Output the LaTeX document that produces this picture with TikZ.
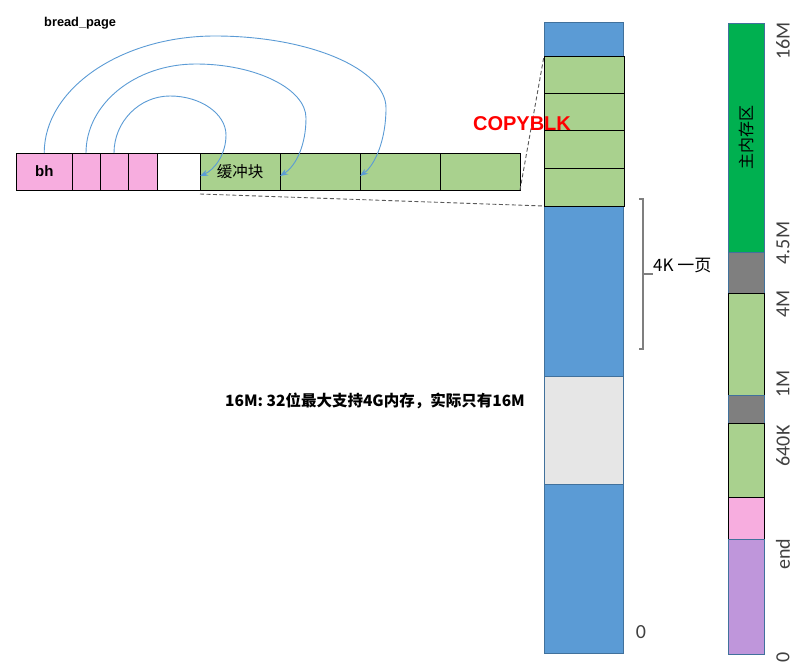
\documentclass[tikz,border=0pt]{standalone}
\usepackage{fontspec}
\setmainfont{Liberation Sans}
\newfontfamily\cjk{Noto Sans CJK SC}
\newfontfamily\calfont{Carlito}
\usetikzlibrary{arrows.meta}
\definecolor{pinkc}{HTML}{F7ADDF}
\definecolor{lgreen}{HTML}{A9D18E}
\definecolor{blueb}{HTML}{5B9BD5}
\definecolor{bluebd}{HTML}{41719C}
\definecolor{lgray}{HTML}{E6E6E6}
\definecolor{dgreen}{HTML}{00B050}
\definecolor{dgray}{HTML}{7F7F7F}
\definecolor{purp}{HTML}{BF96DB}
\definecolor{labc}{HTML}{404040}
\newcommand\rbox[7]{\node[#2, minimum width={#5pt-#3pt}, minimum height={#6pt-#4pt}] (#1) at ({(#3+#5)/2},{(#4+#6)/2}) {#7};}
\begin{document}
\begin{tikzpicture}[x=1pt,y=-1pt,
  cellbox/.style={draw=black,line width=0.8pt,inner sep=0pt,outer sep=0pt},
  bluebox/.style={draw=bluebd,line width=0.8pt,inner sep=0pt,outer sep=0pt},
  linkarrow/.style={draw=blueb,line width=0.9pt,-{Stealth[length=8pt,width=6pt]}},
  dashline/.style={draw=black!65,line width=0.9pt,dash pattern=on 4pt off 2.5pt},
  bracket/.style={draw=dgray,line width=1.2pt},
  sidelabel/.style={rotate=90,text=labc,inner sep=0pt,font=\calfont\fontsize{20}{24}\selectfont}]
\useasboundingbox (0,0) rectangle (799,671);
% left row
\rbox{bh}{cellbox,fill=pinkc,font=\bfseries\fontsize{15}{18}\selectfont}{16.5}{153}{72}{190}{bh}
\rbox{p1}{cellbox,fill=pinkc}{72}{153}{100}{190}{}
\rbox{p2}{cellbox,fill=pinkc}{100}{153}{128}{190}{}
\rbox{p3}{cellbox,fill=pinkc}{128}{153}{157}{190}{}
\rbox{wh}{cellbox,fill=white}{157}{153}{200}{190}{}
\rbox{g1}{cellbox,fill=lgreen,font=\cjk\fontsize{15.5}{18}\selectfont}{200}{153}{280}{190}{缓冲块}
\rbox{g2}{cellbox,fill=lgreen}{280}{153}{360}{190}{}
\rbox{g3}{cellbox,fill=lgreen}{360}{153}{440}{190}{}
\rbox{g4}{cellbox,fill=lgreen}{440}{153}{520}{190}{}
\node[anchor=west,inner sep=0pt,font=\bfseries\fontsize{12.8}{15}\selectfont] (bp) at (44,23) {bread\_page};
% arcs
\draw[linkarrow] (bh.north) .. controls (44,89) and (121,36) .. (215,36)
  .. controls (309,36) and (386,69) .. (386,108)
  .. controls (386,140) and (375,165) .. ([yshift=-4.5pt]g3.west);
\draw[linkarrow] (p1.north) .. controls (86,104) and (135,64) .. (196,64)
  .. controls (256,64) and (306,89) .. (306,118)
  .. controls (306,145) and (296,166) .. ([yshift=-4.5pt]g2.west);
\draw[linkarrow] (p2.north) .. controls (114,122) and (139,96) .. (170,96)
  .. controls (201,96) and (226,114) .. (226,135)
  .. controls (226,155) and (214,170) .. ([yshift=-4.5pt]g1.west);
% middle column
\rbox{col}{bluebox,fill=blueb}{544}{22}{623.5}{653}{}
\rbox{gz}{bluebox,fill=lgray}{544}{376.5}{623.5}{484}{}
\rbox{c1}{cellbox,fill=lgreen}{544}{56}{624}{93}{}
\rbox{c2}{cellbox,fill=lgreen}{544}{93}{624}{130}{}
\rbox{c3}{cellbox,fill=lgreen}{544}{130}{624}{168}{}
\rbox{c4}{cellbox,fill=lgreen}{544}{168}{624}{206}{}
\draw[dashline] (g4.south east) -- (c1.north west);
\draw[dashline] ([yshift=-4pt]g1.south west) -- (c4.south west);
\node[text=red,font=\bfseries\fontsize{20}{24}\selectfont,inner sep=0pt] (cp) at (522,124) {COPYBLK};
% bracket
\coordinate (b1) at (639,199);
\coordinate (b2) at (643,199);
\coordinate (b3) at (643,349);
\coordinate (b4) at (639,349);
\coordinate (bm) at (643,274);
\node[anchor=west,inner sep=0pt,font=\cjk\fontsize{17}{20}\selectfont] (k4) at (653,266) {4K 一页};
\draw[bracket] (b1) -- (b2) -- (b3) -- (b4);
\draw[bracket] (bm) -- (k4.west |- bm);
\node[anchor=west,inner sep=0pt,font=\cjk\bfseries\fontsize{15.5}{18}\selectfont] (note) at (225,401) {16M: 32位最大支持4G内存，实际只有16M};
\node[text=labc,inner sep=0pt,font=\calfont\fontsize{20}{24}\selectfont] (zero) at (641,632) {0};
% right bar
\rbox{mm}{bluebox,fill=dgreen}{728.5}{23}{764.5}{252}{}
\node[rotate=90,inner sep=0pt,font=\cjk\fontsize{16}{19}\selectfont] (mmt) at (746,137) {主内存区};
\rbox{gy1}{bluebox,fill=dgray}{728.5}{252}{764.5}{293}{}
\rbox{lg1}{cellbox,fill=lgreen}{728.5}{293}{764.5}{395}{}
\rbox{gy2}{bluebox,fill=dgray}{728.5}{395}{764.5}{423}{}
\rbox{lg2}{cellbox,fill=lgreen}{728.5}{423}{764.5}{497}{}
\rbox{pk}{cellbox,fill=pinkc}{728.5}{497}{764.5}{539}{}
\rbox{pu}{bluebox,fill=purp}{728.5}{539}{764.5}{654}{}
\node[sidelabel] (s16) at (783,41) {16M};
\node[sidelabel] (s45) at (783,243) {4.5M};
\node[sidelabel] (s4) at (783,304) {4M};
\node[sidelabel] (s1) at (783,384) {1M};
\node[sidelabel] (s640) at (783,446) {640K};
\node[sidelabel] (send) at (783,554) {end};
\node[sidelabel] (s0) at (783,657) {0};
\end{tikzpicture}
\end{document}
